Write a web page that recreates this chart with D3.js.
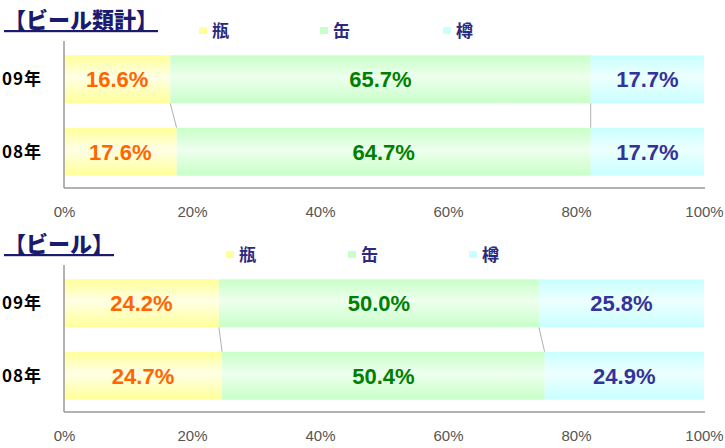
<!DOCTYPE html>
<html>
<head>
<meta charset="utf-8">
<script src="https://cdn.jsdelivr.net/npm/d3@7"></script>
<style>
  body { margin: 0; background: #fff; }
  svg { display: block; }
</style>
</head>
<body>
<div id="chart"></div>
<script>
// データ
var categories = ["09年", "08年"];
var seriesNames = ["瓶", "缶", "樽"];
var totalValues = [[16.6, 65.7, 17.7], [17.6, 64.7, 17.7]]; // ビール類計
var beerValues = [[24.2, 50.0, 25.8], [24.7, 50.4, 24.9]];  // ビール
var tickValues = [0, 20, 40, 60, 80, 100];

var width = 725, height = 448;
var edgeColors = ["#ffff99", "#c8ffc8", "#c8ffff"];
var midColors = ["#ffffe6", "#eeffee", "#eeffff"];
var labelColors = ["#ff6600", "#008000", "#333399"];
var jpFont = "'Noto Sans CJK JP', sans-serif";
var numFont = "'Liberation Sans', Arial, sans-serif";

var svg = d3.select("#chart").append("svg")
    .attr("width", width)
    .attr("height", height);

// グラデーション
var defs = svg.append("defs");
seriesNames.forEach(function(s, i) {
    var grad = defs.append("linearGradient")
        .attr("id", "grad" + i)
        .attr("x1", 0).attr("y1", 0).attr("x2", 0).attr("y2", 1);
    grad.append("stop").attr("offset", "0%").attr("stop-color", edgeColors[i]);
    grad.append("stop").attr("offset", "45%").attr("stop-color", midColors[i]);
    grad.append("stop").attr("offset", "100%").attr("stop-color", edgeColors[i]);
});

var x = d3.scaleLinear().domain([0, 100]).range([64, 704]);

function drawPanel(title, values, top, legendX) {
    var g = svg.append("g").attr("transform", "translate(0," + top + ")");

    var y = d3.scaleBand()
        .domain(categories)
        .range([43, 188])
        .paddingInner(0.34)
        .paddingOuter(0.17);

    // タイトル
    g.append("text")
        .attr("x", 4)
        .attr("y", 28)
        .attr("font-family", jpFont)
        .attr("font-weight", "900")
        .attr("font-size", 22)
        .attr("fill", "#1a1a6e")
        .attr("text-decoration", "underline")
        .text(title);

    // 凡例
    var leg = g.selectAll(".leg")
        .data(seriesNames)
        .enter().append("g")
        .attr("transform", function(d, i) { return "translate(" + legendX[i] + ",31)"; });
    leg.append("rect")
        .attr("x", 0).attr("y", -4)
        .attr("width", 8).attr("height", 7)
        .attr("fill", function(d, i) { return edgeColors[i]; });
    leg.append("text")
        .attr("x", 13)
        .attr("y", 6)
        .attr("font-family", jpFont)
        .attr("font-weight", "bold")
        .attr("font-size", 17)
        .attr("fill", "#2a2a80")
        .text(function(d) { return d; });

    // 積み上げデータ
    var rows = values.map(function(v, r) {
        var acc = 0;
        return v.map(function(val, i) {
            var seg = { cat: categories[r], i: i, x0: acc, x1: acc + val, value: val };
            acc += val;
            return seg;
        });
    });

    // 区分線
    var links = [];
    for (var i = 0; i < seriesNames.length - 1; i++) {
        links.push({ a: rows[0][i].x1, b: rows[1][i].x1 });
    }
    g.selectAll(".link")
        .data(links)
        .enter().append("line")
        .attr("x1", function(d) { return x(d.a); })
        .attr("y1", y(categories[0]) + y.bandwidth())
        .attr("x2", function(d) { return x(d.b); })
        .attr("y2", y(categories[1]))
        .attr("stroke", "#b0b0b0")
        .attr("stroke-width", 1);

    var segs = [].concat.apply([], rows);

    g.selectAll(".bar")
        .data(segs)
        .enter().append("rect")
        .attr("x", function(d) { return x(d.x0); })
        .attr("y", function(d) { return y(d.cat); })
        .attr("width", function(d) { return x(d.x1) - x(d.x0); })
        .attr("height", y.bandwidth())
        .attr("fill", function(d) { return "url(#grad" + d.i + ")"; });

    g.selectAll(".val")
        .data(segs)
        .enter().append("text")
        .attr("x", function(d) { return (x(d.x0) + x(d.x1)) / 2; })
        .attr("y", function(d) { return y(d.cat) + y.bandwidth() / 2 + 8; })
        .attr("text-anchor", "middle")
        .attr("font-family", numFont)
        .attr("font-weight", "bold")
        .attr("font-size", 22)
        .attr("fill", function(d) { return labelColors[d.i]; })
        .text(function(d) { return d.value.toFixed(1) + "%"; });

    // カテゴリ
    g.selectAll(".cat")
        .data(categories)
        .enter().append("text")
        .attr("x", 2)
        .attr("y", function(d) { return y(d) + y.bandwidth() / 2 + 6; })
        .attr("font-family", jpFont)
        .attr("font-weight", "bold")
        .attr("font-size", 17)
        .attr("letter-spacing", 1)
        .attr("fill", "#000")
        .text(function(d) { return d; });

    // 軸線
    g.append("line")
        .attr("x1", 64).attr("x2", 64)
        .attr("y1", 41).attr("y2", 188)
        .attr("stroke", "#999").attr("stroke-width", 1.5);
    g.append("line")
        .attr("x1", 64).attr("x2", 705)
        .attr("y1", 188).attr("y2", 188)
        .attr("stroke", "#999").attr("stroke-width", 1.5);

    // 目盛ラベル
    var axis = d3.axisBottom(x)
        .tickValues(tickValues)
        .tickSize(0)
        .tickPadding(0)
        .tickFormat(function(d) { return d + "%"; });
    var ax = g.append("g")
        .attr("transform", "translate(0,206)")
        .call(axis);
    ax.select(".domain").remove();
    ax.selectAll("text")
        .attr("font-family", numFont)
        .attr("font-size", 15)
        .attr("fill", "#555");
}

drawPanel("【ビール類計】", totalValues, 0, [199, 320, 443]);
drawPanel("【ビール】", beerValues, 224, [226, 348, 469]);
</script>
</body>
</html>
